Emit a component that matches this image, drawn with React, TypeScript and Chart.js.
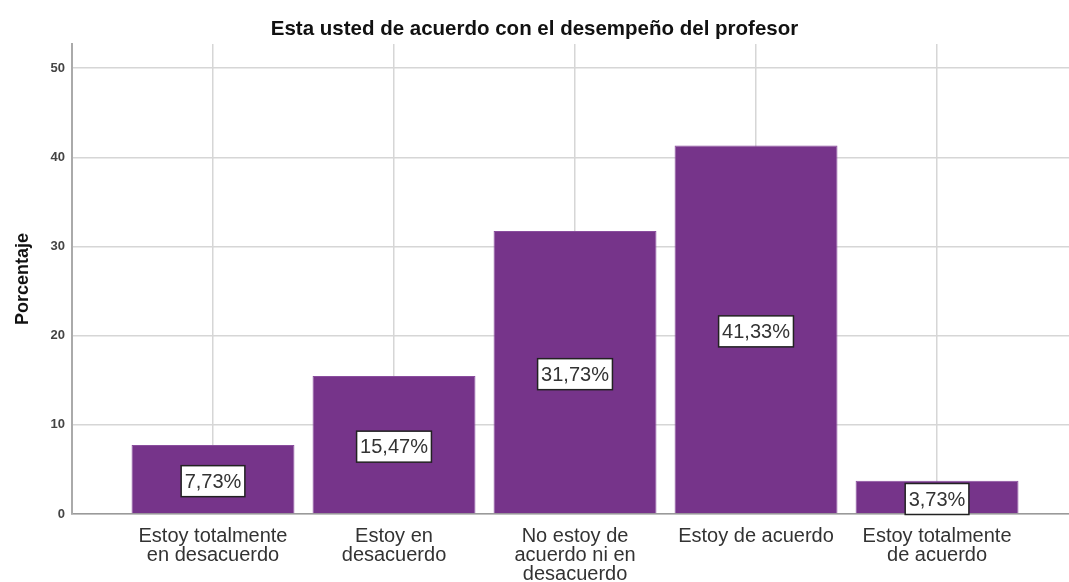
import React, { useEffect, useRef } from "react";
import { Chart, registerables } from "chart.js";

Chart.register(...registerables);

const titleText = "Esta usted de acuerdo con el desempeño del profesor";
const yAxisTitle = "Porcentaje";
const categories: string[][] = [
  ["Estoy totalmente", "en desacuerdo"],
  ["Estoy en", "desacuerdo"],
  ["No estoy de", "acuerdo ni en", "desacuerdo"],
  ["Estoy de acuerdo"],
  ["Estoy totalmente", "de acuerdo"],
];
const percentages: number[] = [7.73, 15.47, 31.73, 41.33, 3.73];
const valueLabels: string[] = ["7,73%", "15,47%", "31,73%", "41,33%", "3,73%"];
const yTicks: number[] = [0, 10, 20, 30, 40, 50];

const FONT = "'Liberation Sans', Arial, sans-serif";

const labelPlugin = {
  id: "valueBoxes",
  afterDatasetsDraw(chart: any) {
    const ctx = chart.ctx;
    const meta = chart.getDatasetMeta(0);
    ctx.save();
    ctx.font = `20px ${FONT}`;
    ctx.textAlign = "center";
    ctx.textBaseline = "middle";
    meta.data.forEach((el: any, i: number) => {
      const txt = valueLabels[i];
      const cx = el.x;
      const cy = (el.y + el.base) / 2 + 2;
      const tw = ctx.measureText(txt).width;
      const w = tw + 7;
      const h = 31;
      ctx.fillStyle = "#ffffff";
      ctx.fillRect(cx - w / 2, cy - h / 2, w, h);
      ctx.strokeStyle = "#222222";
      ctx.lineWidth = 1.5;
      ctx.strokeRect(cx - w / 2, cy - h / 2, w, h);
      ctx.fillStyle = "#333333";
      ctx.fillText(txt, cx, cy + 1);
    });
    ctx.restore();
  },
};

export default function App() {
  const ref = useRef<HTMLCanvasElement | null>(null);
  useEffect(() => {
    if (!ref.current) return;
    const chart = new Chart(ref.current, {
      type: "bar",
      data: {
        datasets: [
          {
            data: percentages.map((v, i) => ({ x: i, y: v })),
            backgroundColor: "#76348A",
            borderColor: "#8A4E9E",
            borderWidth: 1,
            barPercentage: 0.9,
            categoryPercentage: 1,
          },
        ],
      },
      options: {
        animation: false,
        responsive: true,
        maintainAspectRatio: false,
        layout: { padding: { top: 0, left: 0, right: 0, bottom: 0 } },
        plugins: {
          legend: { display: false },
          tooltip: { enabled: false },
          title: {
            display: true,
            text: titleText,
            color: "#111111",
            font: { family: FONT, size: 20.5, weight: "bold" },
            padding: { top: 17.5, bottom: 2 },
          },
        },
        scales: {
          x: {
            type: "linear",
            offset: false,
            min: -0.779,
            max: 4.729,
            afterBuildTicks: (scale: any) => {
              scale.ticks = categories.map((_, i) => ({ value: i }));
            },
            afterFit: (scale: any) => {
              scale.height = 68;
            },
            ticks: {
              autoSkip: false,
              maxRotation: 0,
              padding: 13,
              color: "#333333",
              font: { family: FONT, size: 20, lineHeight: 0.95 },
              callback: (value: any) => categories[Math.round(Number(value))] ?? "",
            },
            grid: { color: "#d6d6d6", lineWidth: 1.5, drawTicks: false, offset: false },
            border: { color: "#9a9a9a", width: 1.5 },
          },
          y: {
            type: "linear",
            min: 0,
            max: 52.7,
            afterBuildTicks: (scale: any) => {
              scale.ticks = yTicks.map((v) => ({ value: v }));
            },
            afterFit: (scale: any) => {
              scale.width = 72;
            },
            ticks: {
              padding: 7,
              color: "#444444",
              font: { family: FONT, size: 13, weight: "bold" },
            },
            grid: { color: "#d6d6d6", lineWidth: 1.5, drawTicks: false },
            border: { color: "#aaaaaa", width: 2 },
            title: {
              display: true,
              text: yAxisTitle,
              color: "#111111",
              font: { family: FONT, size: 18, weight: "bold" },
              padding: { top: 12, bottom: 0 },
            },
          },
        },
      },
      plugins: [labelPlugin],
    } as any);
    return () => chart.destroy();
  }, []);
  return (
    <div style={{ position: "fixed", left: 0, top: 0, width: 1069, height: 582, background: "#ffffff" }}>
      <canvas ref={ref} />
    </div>
  );
}
